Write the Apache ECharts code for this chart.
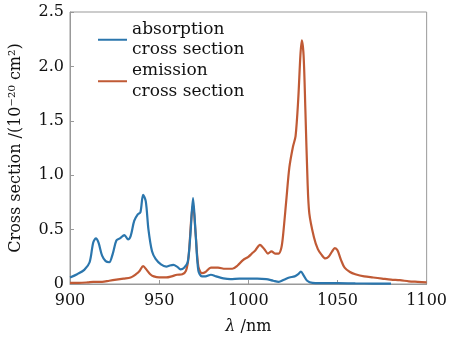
<!DOCTYPE html>
<html>
<head>
<meta charset="utf-8">
<script src="https://cdn.jsdelivr.net/npm/echarts@6/dist/echarts.min.js"></script>
<style>
  html, body { margin: 0; padding: 0; background: #fff; }
  #chart { width: 450px; height: 340px; }
</style>
</head>
<body>
<div id="chart"></div>
<script>
// absorption cross section
var absWl = [900, 904, 908, 911, 913, 914.5, 916, 918, 920, 922, 924, 926, 928, 930.5, 932.5, 934, 936, 938, 939.5, 941, 942.5, 944, 946, 948, 951, 954, 956, 958, 960, 962, 964, 966, 967.5, 969, 970.5, 972, 974, 976, 979, 982, 986, 990, 995, 1000, 1005, 1010, 1014, 1017, 1020, 1023, 1026, 1028, 1029.5, 1031, 1033, 1036, 1040, 1050, 1060, 1070, 1080];
var absVal = [0.06, 0.09, 0.13, 0.2, 0.38, 0.42, 0.38, 0.26, 0.21, 0.2, 0.28, 0.4, 0.42, 0.45, 0.41, 0.44, 0.58, 0.64, 0.66, 0.82, 0.76, 0.5, 0.3, 0.23, 0.18, 0.16, 0.17, 0.175, 0.16, 0.135, 0.15, 0.2, 0.45, 0.79, 0.45, 0.12, 0.07, 0.07, 0.085, 0.07, 0.052, 0.045, 0.05, 0.05, 0.05, 0.045, 0.03, 0.02, 0.04, 0.06, 0.07, 0.09, 0.115, 0.08, 0.03, 0.01, 0.008, 0.008, 0.005, 0.004, 0.003];

// emission cross section
var emWl = [900, 905, 910, 913, 918, 922, 926, 930, 934, 937, 939, 941, 943, 945, 947, 950, 954, 957, 960, 963, 965, 966.5, 968, 969, 970.5, 972, 974, 976, 979, 983, 987, 991, 994, 997, 1000, 1002, 1004, 1006.5, 1009, 1011, 1013, 1015, 1017, 1018.5, 1019.5, 1021.3, 1023, 1025, 1026.5, 1028, 1029.2, 1030, 1031, 1032, 1033.2, 1034.2, 1036.8, 1039, 1041, 1043.2, 1045, 1047, 1048.5, 1050, 1052, 1054, 1057, 1060, 1065, 1070, 1075, 1080, 1085, 1090, 1095, 1100];
var emVal = [0.01, 0.01, 0.015, 0.02, 0.02, 0.03, 0.04, 0.05, 0.06, 0.09, 0.12, 0.165, 0.13, 0.09, 0.07, 0.06, 0.06, 0.07, 0.085, 0.09, 0.12, 0.25, 0.6, 0.73, 0.45, 0.16, 0.1, 0.11, 0.15, 0.15, 0.14, 0.14, 0.17, 0.22, 0.25, 0.28, 0.31, 0.36, 0.32, 0.28, 0.3, 0.28, 0.28, 0.33, 0.45, 0.77, 1.07, 1.26, 1.36, 1.7, 2.1, 2.24, 2.1, 1.6, 0.95, 0.65, 0.43, 0.32, 0.27, 0.235, 0.25, 0.3, 0.33, 0.31, 0.22, 0.15, 0.11, 0.09, 0.07, 0.06, 0.05, 0.04, 0.035, 0.025, 0.02, 0.015];

var seriesNames = ['absorption\ncross section', 'emission\ncross section'];

function pairs(xs, ys) {
  return xs.map(function (x, i) { return [x, ys[i]]; });
}

var font = 'DejaVu Serif';
var myChart = echarts.init(document.getElementById('chart'));
option = {
  animation: false,
  grid: { left: 62, right: 23, top: 12, bottom: 56, show: true, borderColor: '#999', borderWidth: 1 },
  legend: {
    orient: 'vertical',
    left: 98,
    top: 9,
    padding: 0,
    itemGap: -20,
    itemWidth: 29,
    itemHeight: 2,
    icon: 'rect',
    data: seriesNames,
    textStyle: { fontFamily: font, fontSize: 17, lineHeight: 20.5, color: '#111', padding: [20.5, 0, 0, 0] }
  },
  xAxis: {
    type: 'value', min: 900, max: 1100, interval: 50,
    name: '{i|λ} /nm', nameLocation: 'middle', nameGap: 35,
    nameTextStyle: { fontFamily: font, fontSize: 16, color: '#111', rich: { i: { fontFamily: font, fontSize: 16, fontStyle: 'italic', color: '#111' } } },
    axisLine: { lineStyle: { color: '#999' } },
    axisTick: { inside: true, length: 4, lineStyle: { color: '#999' } },
    axisLabel: { fontFamily: font, fontSize: 16, color: '#111', margin: 9,
      formatter: function (v) { return String(v); } },
    splitLine: { show: false }
  },
  yAxis: {
    type: 'value', min: 0, max: 2.5, interval: 0.5,
    name: 'Cross section /(10⁻²⁰ cm²)', nameLocation: 'middle', nameGap: 46,
    nameTextStyle: { fontFamily: font, fontSize: 16, color: '#111' },
    axisLine: { show: true, lineStyle: { color: '#999' } },
    axisTick: { show: true, inside: true, length: 4, lineStyle: { color: '#999' } },
    axisLabel: { fontFamily: font, fontSize: 16, color: '#111', margin: 6,
      formatter: function (v) { return v === 0 ? '0' : v.toFixed(1); } },
    splitLine: { show: false }
  },
  series: [
    { name: seriesNames[0], type: 'line', data: pairs(absWl, absVal), showSymbol: false, symbol: 'none', smooth: 0.3,
      lineStyle: { width: 2.2, color: '#2b76ad' }, itemStyle: { color: '#2b76ad' }, z: 3 },
    { name: seriesNames[1], type: 'line', data: pairs(emWl, emVal), showSymbol: false, symbol: 'none', smooth: 0.3,
      lineStyle: { width: 2.2, color: '#c05a35' }, itemStyle: { color: '#c05a35' }, z: 2 }
  ]
};
myChart.setOption(option);
</script>
</body>
</html>
